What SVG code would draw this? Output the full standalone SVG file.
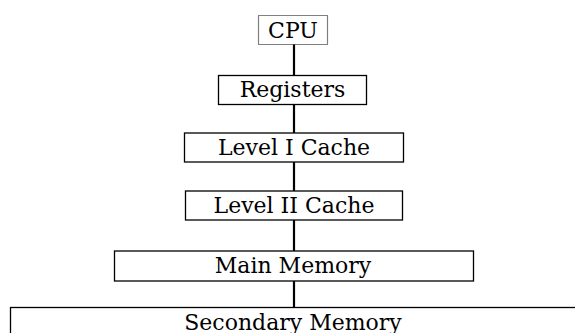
<svg xmlns="http://www.w3.org/2000/svg" width="575" height="333" viewBox="0 0 575 333">
<style>
.box{fill:#fff;stroke:#000;stroke-width:1.3}
.dot{fill:#fff;stroke:#000;stroke-width:1.2;stroke-dasharray:1 1}
.lbl{font-family:"DejaVu Serif","Liberation Serif",serif;font-size:22px;fill:#000;text-anchor:middle}
.conn{stroke:#000;stroke-width:2.2;fill:none}
</style>
<rect width="575" height="333" fill="#fff"/>
<g id="connectors">
<line class="conn" x1="294" y1="44" x2="294" y2="76"/>
<line class="conn" x1="294" y1="104" x2="294" y2="133"/>
<line class="conn" x1="294" y1="162" x2="294" y2="191"/>
<line class="conn" x1="294" y1="220" x2="294" y2="251"/>
<line class="conn" x1="294" y1="281" x2="294" y2="307"/>
</g>
<g id="cpu">
<rect class="dot" x="258.5" y="15.5" width="69" height="29"/>
<text class="lbl" x="293" y="38">CPU</text>
</g>
<g id="registers">
<rect class="box" x="218.5" y="75.5" width="148" height="29"/>
<text class="lbl" x="292.5" y="97">Registers</text>
</g>
<g id="level1">
<rect class="box" x="184.5" y="133" width="219" height="29"/>
<text class="lbl" x="294" y="155">Level I Cache</text>
</g>
<g id="level2">
<rect class="box" x="185.5" y="191" width="217" height="29"/>
<text class="lbl" x="294" y="213">Level II Cache</text>
</g>
<g id="main">
<rect class="box" x="114.5" y="251" width="359" height="30"/>
<text class="lbl" x="293" y="273">Main Memory</text>
</g>
<g id="secondary">
<rect class="box" x="10.5" y="307.5" width="570" height="40"/>
<text class="lbl" x="293" y="330">Secondary Memory</text>
</g>
</svg>
